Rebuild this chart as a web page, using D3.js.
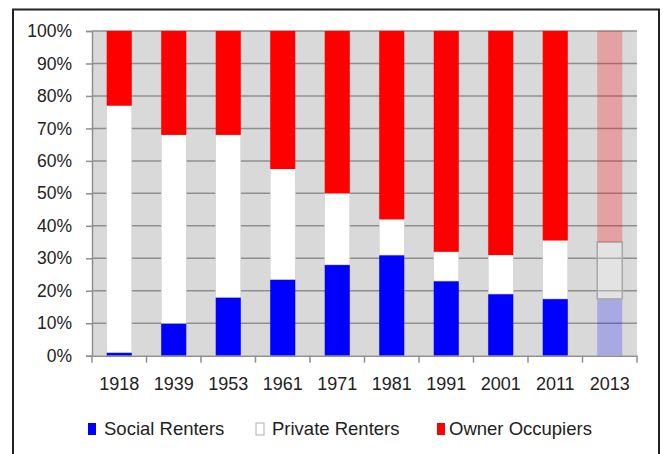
<!DOCTYPE html>
<html>
<head>
<meta charset="utf-8">
<script src="https://cdn.jsdelivr.net/npm/d3@7"></script>
<style>
 body { margin:0; background:#fff; }
 text { font-family:"Liberation Sans", Arial, sans-serif; fill:#222; }
</style>
</head>
<body>
<script>
 var years = ["1918","1939","1953","1961","1971","1981","1991","2001","2011","2013"];
 var socialRenters  = [1, 10, 18, 23.5, 28, 31, 23, 19, 17.5, 17.5];
 var privateRenters = [76, 58, 50, 34, 22, 11, 9, 12, 18, 17.5];
 var ownerOccupiers = [23, 32, 32, 42.5, 50, 58, 68, 69, 64.5, 65];
 var seriesNames = ["Social Renters","Private Renters","Owner Occupiers"];
 var seriesColors = ["#0000ff","#ffffff","#ff0000"];
 var yTicks = [0,10,20,30,40,50,60,70,80,90,100];
 var faded = "2013";

 var svg = d3.select("body").append("svg")
      .attr("width",663)
      .attr("height",454);

 // outer frame
 svg.append("rect")
    .attr("x",13).attr("y",9.5)
    .attr("width",646).attr("height",460)
    .attr("fill","none")
    .attr("stroke","#222")
    .attr("stroke-width",2);

 var pLeft = 92, pRight = 637, pTop = 31, pBottom = 355.7;

 var x = d3.scaleBand().domain(years).range([pLeft,pRight]).paddingInner(0.54).paddingOuter(0.27);
 var xb = d3.scaleBand().domain(years).range([pLeft,pRight]);
 var y = d3.scaleLinear().domain([0,100]).range([pBottom,pTop]);

 var rows = years.map(function(yr,i){
   return {year:yr, "Social Renters":socialRenters[i], "Private Renters":privateRenters[i], "Owner Occupiers":ownerOccupiers[i]};
 });
 var stacked = d3.stack().keys(seriesNames)(rows);

 // plot background
 svg.append("rect")
    .attr("x",pLeft).attr("y",pTop)
    .attr("width",pRight-pLeft).attr("height",pBottom-pTop)
    .attr("fill","#d9d9d9");

 // grid lines
 svg.append("g").selectAll("line")
    .data(yTicks.slice(1))
    .enter().append("line")
    .attr("x1",pLeft).attr("x2",pRight)
    .attr("y1",function(d){ return y(d); })
    .attr("y2",function(d){ return y(d); })
    .attr("stroke","#8f8f8f")
    .attr("stroke-width",1.5);

 // bars
 stacked.forEach(function(s,k){
   svg.append("g").selectAll("rect")
      .data(s)
      .enter().append("rect")
      .attr("x",function(d){ return x(d.data.year); })
      .attr("width",x.bandwidth())
      .attr("y",function(d){ return y(d[1]); })
      .attr("height",function(d){ return y(d[0]) - y(d[1]); })
      .attr("fill",seriesColors[k])
      .attr("fill-opacity",function(d){ return d.data.year == faded ? (k == 0 ? 0.22 : 0.26) : 1; })
      .attr("stroke",function(d){ return k == 1 ? (d.data.year == faded ? "#a8a8a8" : "#cfcfcf") : "none"; })
      .attr("stroke-width",function(d){ return d.data.year == faded ? 1.5 : 0.6; });
 });

 // y axis
 var yAxis = svg.append("g")
    .attr("transform","translate(" + pLeft + ",0)")
    .call(d3.axisLeft(y).tickValues(yTicks).tickFormat(function(d){ return d + "%"; }).tickSize(6).tickPadding(14));
 yAxis.selectAll("text").style("font-size","17.5px").attr("fill","#222");

 // x axis
 var xAxis = svg.append("g")
    .attr("transform","translate(0," + pBottom + ")")
    .call(d3.axisBottom(x).tickSize(0).tickPadding(22));
 xAxis.selectAll("text").style("font-size","18px").attr("fill","#222");
 xAxis.selectAll(".tick line").remove();
 svg.append("g").selectAll("line")
    .data(years.concat(["end"]))
    .enter().append("line")
    .attr("x1",function(d){ return d == "end" ? pRight : xb(d); })
    .attr("x2",function(d){ return d == "end" ? pRight : xb(d); })
    .attr("y1",pBottom).attr("y2",pBottom + 7)
    .attr("stroke","#8f8f8f")
    .attr("stroke-width",1.5);

 svg.selectAll(".domain").attr("stroke","#8f8f8f").attr("stroke-width",1.5);
 yAxis.selectAll(".tick line").attr("stroke","#8f8f8f").attr("stroke-width",1.5);

 // legend
 var legendX = [88, 256, 437];
 var legend = svg.append("g").selectAll("g")
    .data(seriesNames)
    .enter().append("g")
    .attr("transform",function(d,i){ return "translate(" + legendX[i] + ",423)"; });
 legend.append("rect")
    .attr("width",8).attr("height",12)
    .attr("fill",function(d,i){ return seriesColors[i]; })
    .attr("stroke",function(d,i){ return i == 1 ? "#b0b0b0" : "none"; });
 legend.append("text")
    .attr("x",function(d,i){ return i == 2 ? 12 : 16; })
    .attr("y",12)
    .style("font-size","18.5px")
    .text(function(d){ return d; });
</script>
</body>
</html>
